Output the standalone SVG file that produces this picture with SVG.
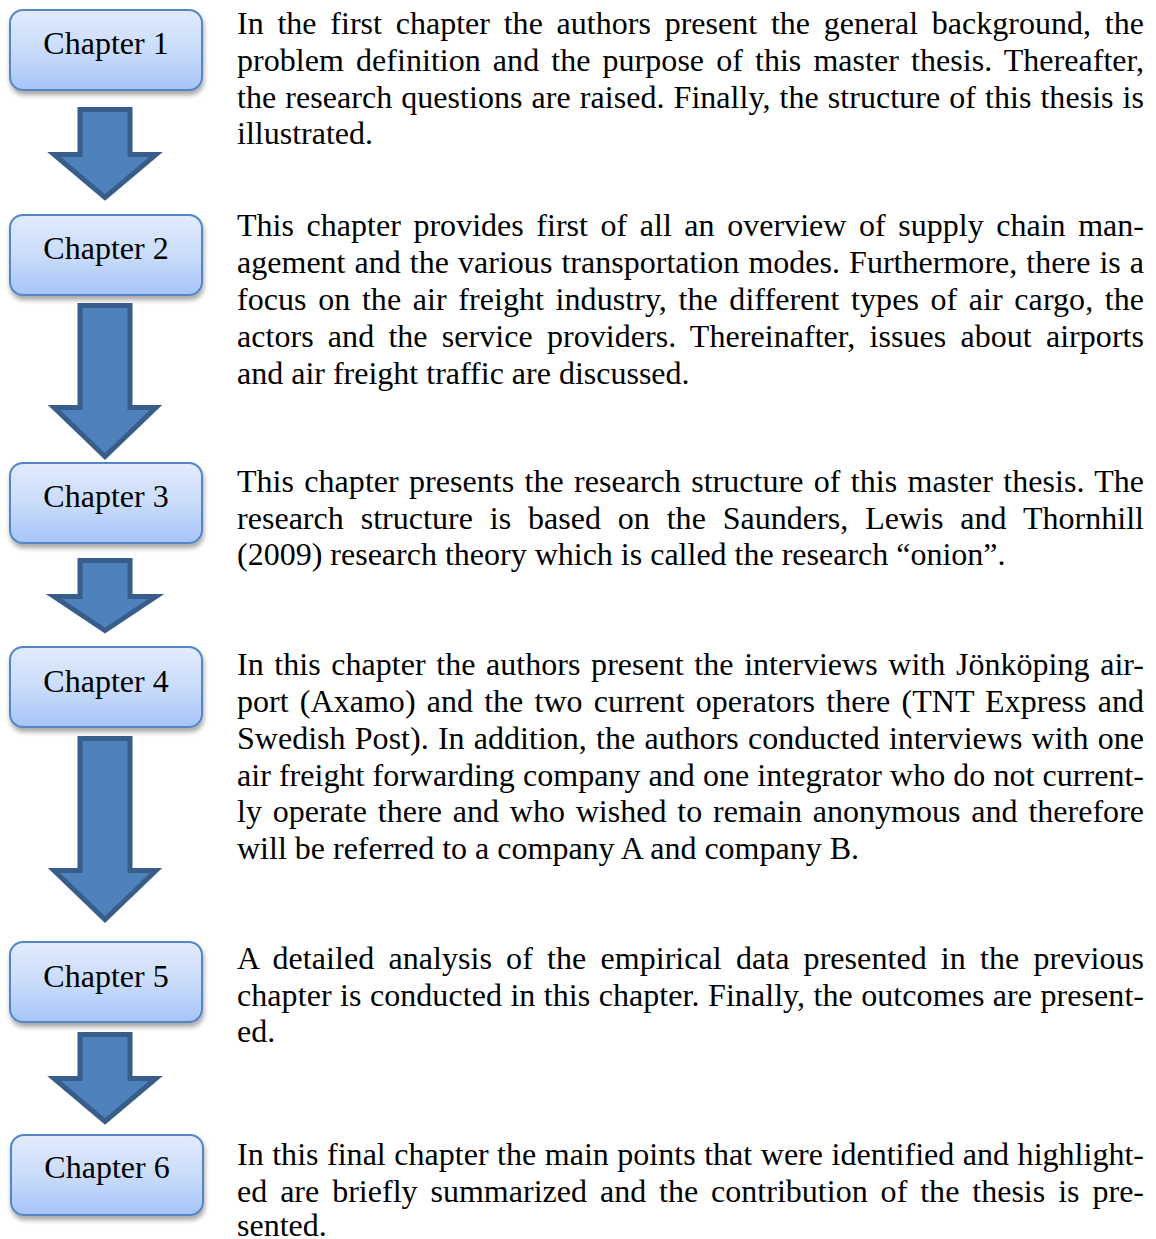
<svg xmlns="http://www.w3.org/2000/svg" width="1156" height="1239" viewBox="0 0 1156 1239">
  <defs>
    <linearGradient id="boxFill" x1="0" y1="0" x2="0" y2="1">
      <stop offset="0" stop-color="#e1ebfc"/>
      <stop offset="0.5" stop-color="#cadcfa"/>
      <stop offset="1" stop-color="#a6c4f7"/>
    </linearGradient>
    <filter id="shadow" x="-10%" y="-10%" width="125%" height="140%">
      <feGaussianBlur in="SourceAlpha" stdDeviation="2.5"/>
      <feOffset dx="1" dy="4" result="b"/>
      <feComponentTransfer><feFuncA type="linear" slope="0.35"/></feComponentTransfer>
      <feMerge><feMergeNode/><feMergeNode in="SourceGraphic"/></feMerge>
    </filter>
  </defs>
  <style>
    .box { fill: url(#boxFill); stroke: #5585c2; stroke-width: 2; filter: url(#shadow); }
    .label { font-family: "Liberation Serif", "Times New Roman", serif; font-size: 32px; fill: #000; text-anchor: middle; }
    .body { font-family: "Liberation Serif", "Times New Roman", serif; font-size: 32px; fill: #000; }
    .arrow { fill: #4f81bd; stroke: #385d8a; stroke-width: 5; stroke-linejoin: miter; }
  </style>

  <!-- chapter boxes -->
  <g id="chapter1">
    <rect class="box" x="10" y="10" width="192" height="80" rx="13"/>
    <text class="label" x="106" y="54">Chapter 1</text>
  </g>
  <g id="chapter2">
    <rect class="box" x="10" y="215" width="192" height="80" rx="13"/>
    <text class="label" x="106" y="259">Chapter 2</text>
  </g>
  <g id="chapter3">
    <rect class="box" x="10" y="463" width="192" height="80" rx="13"/>
    <text class="label" x="106" y="507">Chapter 3</text>
  </g>
  <g id="chapter4">
    <rect class="box" x="10" y="647" width="192" height="80" rx="13"/>
    <text class="label" x="106" y="692">Chapter 4</text>
  </g>
  <g id="chapter5">
    <rect class="box" x="10" y="942" width="192" height="80" rx="13"/>
    <text class="label" x="106" y="987">Chapter 5</text>
  </g>
  <g id="chapter6">
    <rect class="box" x="11" y="1135" width="192" height="80" rx="13"/>
    <text class="label" x="107" y="1178">Chapter 6</text>
  </g>

  <!-- block arrows between chapters -->
  <g id="connectors">
    <path class="arrow" d="M80,109.5 H130 V154.5 H156 L105,197.5 L54,154.5 H80 Z"/>
    <path class="arrow" d="M80,305.5 H130 V407.5 H156 L105,456.5 L54,407.5 H80 Z"/>
    <path class="arrow" d="M80,560.5 H130 V596.5 H156 L105,630.5 L54,596.5 H80 Z"/>
    <path class="arrow" d="M80,738.5 H130 V870.5 H156 L105,919.5 L54,870.5 H80 Z"/>
    <path class="arrow" d="M80,1034.5 H130 V1078.5 H156 L105,1121.5 L54,1078.5 H80 Z"/>
  </g>

  <!-- chapter descriptions (justified lines) -->
  <g id="text1" class="body">
    <text x="237" y="34" word-spacing="5.7" textLength="907" lengthAdjust="spacing">In the first chapter the authors present the general background, the</text>
    <text x="237" y="71" word-spacing="4" textLength="907" lengthAdjust="spacing">problem definition and the purpose of this master thesis. Thereafter,</text>
    <text x="237" y="107.5" word-spacing="1" textLength="907" lengthAdjust="spacing">the research questions are raised. Finally, the structure of this thesis is</text>
    <text x="237" y="144">illustrated.</text>
  </g>
  <g id="text2" class="body">
    <text x="237" y="236" word-spacing="4.5" textLength="907" lengthAdjust="spacing">This chapter provides first of all an overview of supply chain man-</text>
    <text x="237" y="273" word-spacing="1" textLength="907" lengthAdjust="spacing">agement and the various transportation modes. Furthermore, there is a</text>
    <text x="237" y="310" word-spacing="3.5" textLength="907" lengthAdjust="spacing">focus on the air freight industry, the different types of air cargo, the</text>
    <text x="237" y="347" word-spacing="6.1" textLength="907" lengthAdjust="spacing">actors and the service providers. Thereinafter, issues about airports</text>
    <text x="237" y="384">and air freight traffic are discussed.</text>
  </g>
  <g id="text3" class="body">
    <text x="237" y="492" word-spacing="2.3" textLength="907" lengthAdjust="spacing">This chapter presents the research structure of this master thesis. The</text>
    <text x="237" y="529" word-spacing="8.8" textLength="907" lengthAdjust="spacing">research structure is based on the Saunders, Lewis and Thornhill</text>
    <text x="237" y="565">(2009) research theory which is called the research “onion”.</text>
  </g>
  <g id="text4" class="body">
    <text x="237" y="675" word-spacing="2.6" textLength="907" lengthAdjust="spacing">In this chapter the authors present the interviews with Jönköping air-</text>
    <text x="237" y="712" word-spacing="3.1" textLength="907" lengthAdjust="spacing">port (Axamo) and the two current operators there (TNT Express and</text>
    <text x="237" y="748.5" word-spacing="1.2" textLength="907" lengthAdjust="spacing">Swedish Post). In addition, the authors conducted interviews with one</text>
    <text x="237" y="785.5" word-spacing="0.1" textLength="907" lengthAdjust="spacing">air freight forwarding company and one integrator who do not current-</text>
    <text x="237" y="822" word-spacing="2.8" textLength="907" lengthAdjust="spacing">ly operate there and who wished to remain anonymous and therefore</text>
    <text x="237" y="859">will be referred to a company A and company B.</text>
  </g>
  <g id="text5" class="body">
    <text x="237" y="969" word-spacing="6.1" textLength="907" lengthAdjust="spacing">A detailed analysis of the empirical data presented in the previous</text>
    <text x="237" y="1006" word-spacing="0.3" textLength="907" lengthAdjust="spacing">chapter is conducted in this chapter. Finally, the outcomes are present-</text>
    <text x="237" y="1042">ed.</text>
  </g>
  <g id="text6" class="body">
    <text x="237" y="1165" word-spacing="0.5" textLength="907" lengthAdjust="spacing">In this final chapter the main points that were identified and highlight-</text>
    <text x="237" y="1202" word-spacing="4.9" textLength="907" lengthAdjust="spacing">ed are briefly summarized and the contribution of the thesis is pre-</text>
    <text x="237" y="1236">sented.</text>
  </g>
</svg>
